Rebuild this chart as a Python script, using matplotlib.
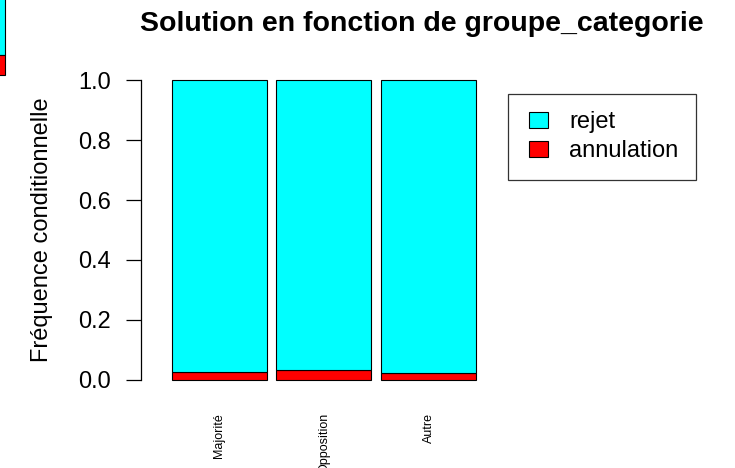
import matplotlib
matplotlib.use("Agg")
import matplotlib.pyplot as plt
from matplotlib.patches import Patch, Rectangle
from matplotlib.legend_handler import HandlerPatch

plt.rcParams['font.family'] = ['Liberation Sans', 'DejaVu Sans']

# data
categories = ["Majorité", "Opposition", "Autre"]
annulation = [0.028, 0.035, 0.025]
rejet = [1 - a for a in annulation]
series_names = ["rejet", "annulation"]
colors = ["#00FFFF", "#FF0000"]

W, H = 735, 468
fig = plt.figure(figsize=(W / 100, H / 100), dpi=100)

# axes placed in pixel terms, like the R plot region
left, right, top, bottom = 141, 703, 68, 392
ax = fig.add_axes([left / W, 1 - bottom / H, (right - left) / W, (bottom - top) / H])

# R barplot: width 1, space 0.1
centers = [0.6 + 1.1 * i for i in range(len(categories))]
ax.bar(centers, annulation, width=1.0, color=colors[1], edgecolor="black", linewidth=0.8)
ax.bar(centers, rejet, width=1.0, bottom=annulation, color=colors[0], edgecolor="black", linewidth=0.8)

px = 1 / 95.0  # one bar unit is 95 px
x0 = -0.226
ax.set_xlim(x0, x0 + (right - left) * px)
ax.set_ylim(-0.04, 1.04)

for s in ["top", "right", "bottom"]:
    ax.spines[s].set_visible(False)
ax.spines["left"].set_bounds(0, 1)
ax.spines["left"].set_linewidth(0.9)

ax.set_yticks([0, 0.2, 0.4, 0.6, 0.8, 1.0])
ax.set_yticklabels(["0.0", "0.2", "0.4", "0.6", "0.8", "1.0"])
ax.tick_params(axis="y", length=10.5, width=0.9, pad=11, labelsize=17)

ax.set_xticks(centers)
ax.set_xticklabels(categories, rotation=90, fontsize=9, va="top")
ax.tick_params(axis="x", length=0, pad=15)

ax.set_ylabel("Fréquence conditionnelle", fontsize=17, labelpad=18)
ax.set_title("Solution en fonction de groupe_categorie", fontsize=20.5, fontweight="bold", pad=26.5)


# small R-style fill box, pushed to the right of the handle area
def fill_box(legend, orig_handle, xdescent, ydescent, width, height, fontsize):
    bw, bh = 13.7, 11.5
    return Rectangle((-xdescent + width - bw, -ydescent + (height - bh) / 2), bw, bh)


handles = [Patch(facecolor=c, edgecolor="black", linewidth=0.8) for c in colors]
leg = ax.legend(handles, series_names, loc="upper left",
                bbox_to_anchor=(508 / W, 1 - 94 / H), bbox_transform=fig.transFigure,
                borderaxespad=0, fancybox=False, edgecolor="black", fontsize=17,
                handlelength=0.95, handleheight=0.7, handletextpad=0.89,
                labelspacing=0.29, borderpad=0.74,
                handler_map={Patch: HandlerPatch(patch_func=fill_box)})
leg.get_frame().set_linewidth(0.9)

# leftover sliver of another plot at the top-left edge of the screenshot
fig.patches.append(Rectangle((-0.01, 1 - 55 / H), 5.5 / W + 0.01, 55 / H + 0.01,
                             transform=fig.transFigure, facecolor="#00FFFF",
                             edgecolor="black", linewidth=0.8))
fig.patches.append(Rectangle((-0.01, 1 - 75 / H), 5.5 / W + 0.01, 20 / H,
                             transform=fig.transFigure, facecolor="#FF0000",
                             edgecolor="black", linewidth=0.8))

fig.savefig("out.png", dpi=100)
